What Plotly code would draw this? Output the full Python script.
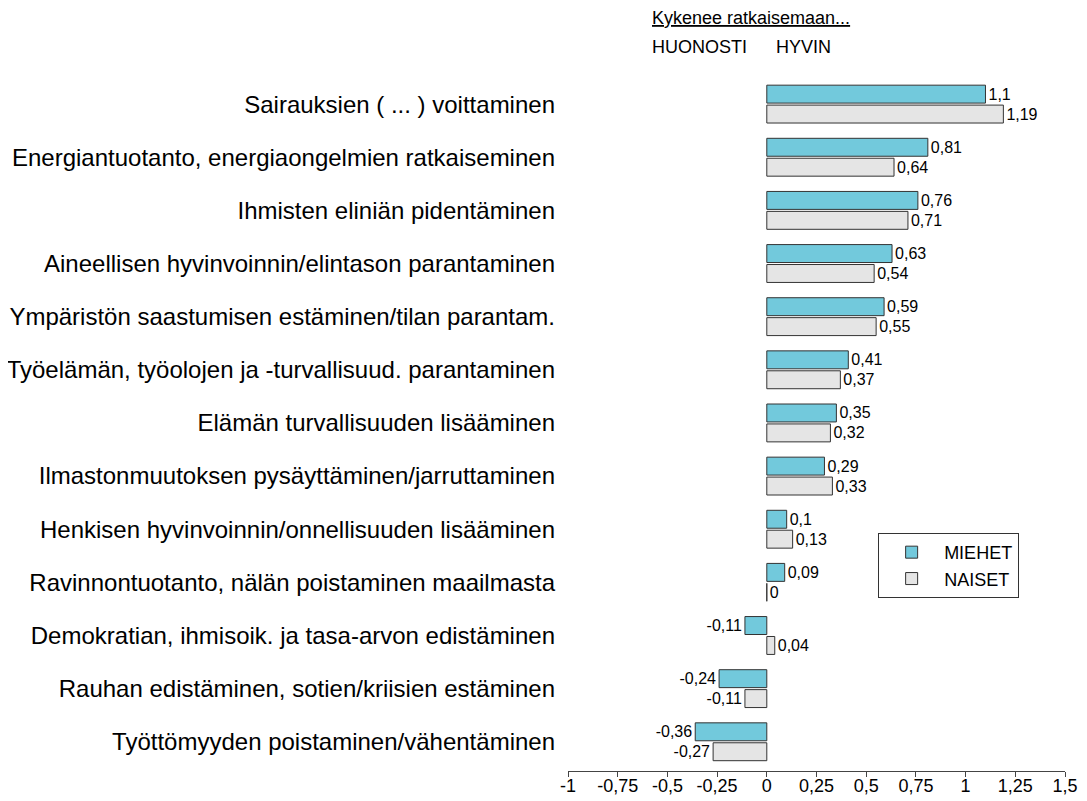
import plotly.graph_objects as go

categories = [
    "Sairauksien ( ... ) voittaminen",
    "Energiantuotanto, energiaongelmien ratkaiseminen",
    "Ihmisten eliniän pidentäminen",
    "Aineellisen hyvinvoinnin/elintason parantaminen",
    "Ympäristön saastumisen estäminen/tilan parantam.",
    "Työelämän, työolojen ja -turvallisuud. parantaminen",
    "Elämän turvallisuuden lisääminen",
    "Ilmastonmuutoksen pysäyttäminen/jarruttaminen",
    "Henkisen hyvinvoinnin/onnellisuuden lisääminen",
    "Ravinnontuotanto, nälän poistaminen maailmasta",
    "Demokratian, ihmisoik. ja tasa-arvon edistäminen",
    "Rauhan edistäminen, sotien/kriisien estäminen",
    "Työttömyyden poistaminen/vähentäminen",
]
miehet = [1.1, 0.81, 0.76, 0.63, 0.59, 0.41, 0.35, 0.29, 0.1, 0.09, -0.11, -0.24, -0.36]
naiset = [1.19, 0.64, 0.71, 0.54, 0.55, 0.37, 0.32, 0.33, 0.13, 0, 0.04, -0.11, -0.27]
x_ticks = [-1, -0.75, -0.5, -0.25, 0, 0.25, 0.5, 0.75, 1, 1.25, 1.5]


def fmt(v):
    return ("%g" % v).replace(".", ",")


FONT = "Arial, Liberation Sans, sans-serif"

fig = go.Figure()
fig.add_trace(go.Bar(
    name="MIEHET", y=categories, x=miehet, orientation="h",
    marker=dict(color="#72C9DC", line=dict(color="#333333", width=1)),
    text=[fmt(v) for v in miehet], textposition="outside",
    textfont=dict(size=16, color="black", family=FONT), cliponaxis=False,
))
fig.add_trace(go.Bar(
    name="NAISET", y=categories, x=naiset, orientation="h",
    marker=dict(color="#E5E5E5", line=dict(color="#333333", width=1)),
    text=[fmt(v) for v in naiset], textposition="outside",
    textfont=dict(size=16, color="black", family=FONT), cliponaxis=False,
))

fig.update_layout(
    width=1087, height=801,
    margin=dict(l=560, r=30, t=69, b=38),
    paper_bgcolor="white", plot_bgcolor="white",
    font=dict(family=FONT, color="black"),
    barmode="group", bargap=0.25, bargroupgap=0.1,
    uniformtext=dict(mode=False),
    legend=dict(
        x=0.624, y=0.343, xanchor="left", yanchor="top",
        bordercolor="#333333", borderwidth=1, bgcolor="white",
        font=dict(size=18, family=FONT), traceorder="normal",
        itemwidth=55, tracegroupgap=0,
    ),
    annotations=[
        dict(text="<u>Kykenee ratkaisemaan...</u>", xref="x", yref="paper",
             x=-0.08, y=1.085, showarrow=False, font=dict(size=18, family=FONT),
             xanchor="center", yanchor="middle"),
        dict(text="HUONOSTI", xref="x", yref="paper",
             x=-0.337, y=1.043, showarrow=False, font=dict(size=18, family=FONT),
             xanchor="center", yanchor="middle"),
        dict(text="HYVIN", xref="x", yref="paper",
             x=0.186, y=1.043, showarrow=False, font=dict(size=18, family=FONT),
             xanchor="center", yanchor="middle"),
    ],
)
fig.update_xaxes(
    range=[-1, 1.5], tickvals=x_ticks, ticktext=[fmt(v) for v in x_ticks],
    showgrid=False, zeroline=False, showline=True, linecolor="#444444", linewidth=1,
    ticks="outside", ticklen=5, tickcolor="#444444",
    tickfont=dict(size=18, family=FONT), automargin=False, ticklabelstandoff=-7,
)
fig.update_yaxes(
    range=[12.55, -0.51], showgrid=False, zeroline=False, showline=False,
    ticks="", tickfont=dict(size=24, family=FONT), ticklabelstandoff=12,
    automargin=False,
)

fig.write_html("out.html")
